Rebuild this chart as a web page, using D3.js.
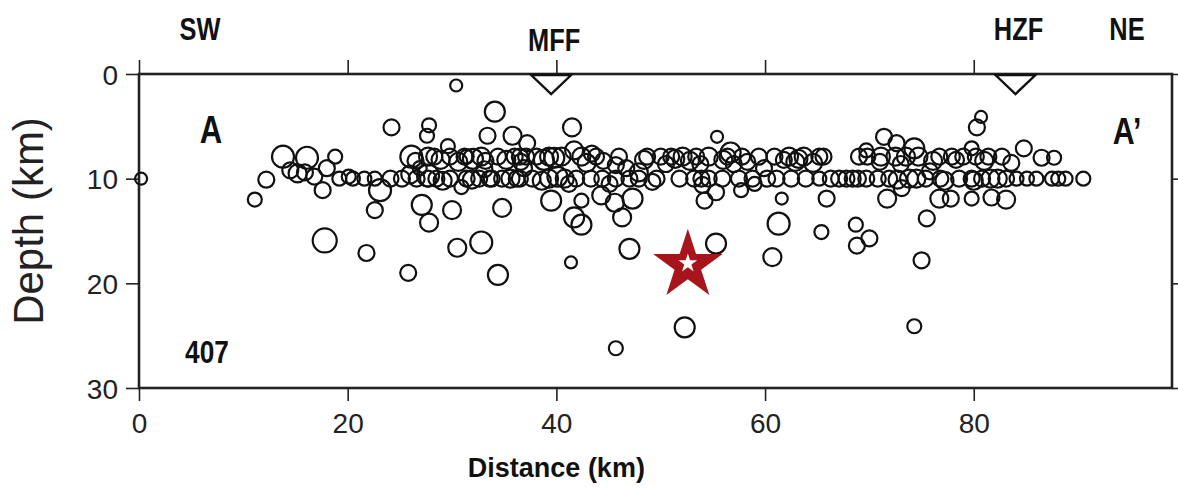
<!DOCTYPE html>
<html>
<head>
<meta charset="utf-8">
<script src="https://cdn.jsdelivr.net/npm/d3@7"></script>
<style>
  body { margin: 0; background: #fff; }
  svg { display: block; }
  .narrow { font-family: "Liberation Sans", Arial, sans-serif; font-weight: bold; }
  .tick text { font-family: "Liberation Sans", Arial, sans-serif; }
</style>
</head>
<body>
<script>
// event distance along profile (km)
var distKm = [
  0.2, 11.1, 12.2, 13.8, 16.1, 18.8, 15.2, 15.9, 18.0, 17.6, 19.2, 17.8, 20.5, 21.6, 22.6, 23.1, 22.6, 21.8, 25.8, 24.2,
  27.8, 27.6, 25.2, 26.1, 26.9, 27.7, 26.6, 28.5, 27.7, 29.8, 29.6, 30.4, 31.4, 29.8, 31.4, 32.6, 30.9, 27.1, 27.8, 30.0,
  30.5, 32.8, 32.8, 33.4, 34.1, 34.4, 33.8, 34.8, 34.8, 34.4, 35.8, 36.0, 36.5, 37.2, 37.1, 37.7, 38.1, 39.3, 39.3, 39.5,
  40.5, 41.5, 41.7, 41.9, 42.4, 42.4, 43.4, 43.3, 43.8, 44.3, 41.7, 42.4, 41.4, 45.7, 45.7, 46.0, 45.6, 46.3, 47.0, 45.7,
  47.3, 47.9, 47.9, 48.7, 49.6, 50.0, 51.0, 51.8, 52.1, 53.4, 53.9, 54.0, 54.2, 54.6, 55.3, 55.4, 55.9, 56.4, 56.7, 57.5,
  57.7, 55.3, 52.3, 57.8, 58.8, 59.4, 60.2, 60.9, 61.1, 61.6, 61.3, 60.7, 62.3, 62.5, 63.7, 63.9, 65.2, 65.6, 65.2, 65.9,
  65.4, 67.1, 67.8, 69.0, 69.7, 69.7, 69.8, 68.7, 70.0, 68.8, 71.1, 71.4, 71.7, 71.9, 72.5, 72.6, 73.1, 73.5, 73.8, 74.3,
  74.7, 74.3, 75.0, 75.5, 75.4, 76.7, 76.7, 76.8, 77.8, 77.9, 78.6, 79.0, 79.8, 79.8, 79.8, 80.2, 80.7, 80.3, 80.8, 81.4,
  81.6, 81.7, 82.7, 83.1, 83.1, 84.1, 84.8, 85.1, 86.5, 87.7, 87.5, 88.1, 88.8, 90.5,
  44.4, 47.0, 53.2, 54.6, 28.3, 31.2, 36.5, 27.7, 33.6, 36.2,
  26.5, 28.9, 30.6, 32.0, 33.2, 35.2, 36.6, 38.8, 39.8, 40.1, 38.6, 35.6, 31.9, 29.1, 24.1, 26.0, 33.1, 36.9, 40.8, 42.9,
  44.5, 46.7, 48.4, 50.5, 51.4, 52.8, 53.8, 56.0, 58.3, 59.9, 62.9, 63.2, 64.6, 66.3, 68.4, 68.9, 70.8, 72.7, 74.5, 76.1,
  78.3, 80.0, 82.3, 81.0, 83.6, 86.0, 20.1, 14.5, 16.8, 59.0, 49.2, 45.1, 41.2, 57.0, 61.8, 75.8, 77.2, 73.0, 71.0
];

// event depth (km)
var depthKm = [
  10.0, 12.0, 10.1, 7.9, 8.0, 7.9, 9.5, 9.4, 9.0, 11.1, 10.0, 15.9, 10.0, 10.0, 10.0, 11.1, 13.0, 17.1, 19.0, 5.1,
  4.9, 5.9, 10.0, 7.9, 9.0, 9.7, 10.0, 10.0, 7.9, 7.9, 6.9, 1.1, 7.9, 10.0, 10.0, 10.0, 10.8, 12.5, 14.2, 13.0,
  16.6, 16.1, 7.9, 5.9, 3.6, 7.9, 10.0, 10.0, 12.8, 19.2, 5.9, 7.9, 10.0, 6.6, 7.9, 10.0, 7.9, 7.9, 10.0, 12.1,
  7.9, 5.1, 7.3, 10.0, 7.9, 12.1, 7.6, 10.0, 7.9, 11.6, 13.7, 14.4, 18.0, 8.7, 10.0, 7.9, 12.3, 13.7, 16.7, 26.2,
  11.9, 9.4, 10.0, 7.9, 10.0, 7.9, 7.9, 10.0, 7.9, 7.9, 10.0, 10.6, 12.1, 7.9, 11.3, 6.0, 10.0, 7.9, 7.5, 10.0,
  11.1, 16.2, 24.2, 7.9, 10.0, 7.9, 10.0, 7.9, 10.0, 11.9, 14.3, 17.5, 7.9, 10.0, 7.9, 10.0, 7.9, 7.9, 10.0, 11.9,
  15.1, 10.0, 10.0, 7.9, 7.3, 10.0, 7.9, 14.4, 15.7, 16.4, 7.9, 6.0, 11.9, 10.0, 7.9, 6.6, 10.9, 7.9, 10.0, 7.1,
  7.9, 24.1, 17.8, 13.8, 10.0, 7.9, 11.9, 10.0, 11.9, 7.9, 10.0, 7.9, 10.0, 11.9, 7.1, 7.9, 4.1, 5.1, 10.0, 7.9,
  10.0, 11.8, 7.9, 10.0, 12.0, 10.0, 7.1, 10.0, 8.0, 8.0, 10.0, 10.0, 10.0, 10.0,
  10.0, 10.0, 10.0, 10.0, 7.9, 7.9, 7.9, 10.0, 10.0, 10.0,
  8.3, 8.2, 8.4, 8.1, 8.3, 8.2, 8.4, 8.2, 8.0, 9.8, 10.2, 10.0, 10.1, 10.2, 10.0, 9.6, 9.1, 9.0, 10.0, 8.5,
  8.3, 9.0, 8.2, 8.6, 8.1, 8.3, 8.6, 8.2, 8.4, 9.0, 8.4, 8.1, 8.5, 10.0, 10.0, 10.0, 10.0, 10.1, 10.0, 8.3,
  8.2, 10.2, 10.0, 8.3, 8.5, 10.0, 9.8, 9.2, 9.8, 10.5, 10.3, 10.5, 10.5, 8.6, 8.2, 9.3, 10.2, 8.6, 8.4
];

// event magnitude
var mag = [
  2.5, 2.8, 3.1, 4.0, 4.0, 2.8, 3.4, 3.1, 3.1, 3.1, 2.8, 4.3, 2.8, 2.8, 2.8, 4.0, 3.1, 3.1, 3.1, 3.1,
  2.8, 2.8, 3.1, 4.0, 2.8, 4.0, 3.1, 3.1, 3.4, 3.1, 2.8, 2.5, 2.8, 3.1, 3.1, 3.1, 2.8, 3.7, 3.4, 3.4,
  3.4, 4.0, 3.4, 3.1, 3.7, 3.1, 3.1, 3.1, 3.4, 3.7, 3.4, 3.1, 3.1, 3.1, 3.1, 3.1, 3.1, 3.4, 3.4, 3.7,
  3.4, 3.4, 3.4, 3.1, 3.4, 2.8, 3.1, 3.1, 3.1, 3.4, 3.7, 3.7, 2.5, 3.1, 3.1, 3.1, 3.4, 3.4, 3.7, 2.8,
  3.7, 3.4, 3.1, 3.1, 3.1, 3.1, 3.1, 3.1, 3.4, 3.1, 3.1, 3.1, 3.1, 3.4, 3.1, 2.5, 3.1, 3.1, 3.7, 3.1,
  2.8, 3.7, 3.7, 3.1, 3.1, 3.1, 3.1, 3.1, 3.1, 2.5, 4.0, 3.4, 3.4, 3.1, 3.4, 3.1, 3.1, 3.1, 2.8, 3.1,
  2.8, 3.1, 3.1, 3.1, 2.8, 3.1, 3.1, 2.8, 3.1, 3.1, 3.4, 3.1, 3.4, 3.1, 3.4, 3.1, 3.1, 3.4, 3.4, 3.7,
  3.4, 2.8, 3.1, 3.1, 3.1, 3.1, 3.4, 3.1, 3.1, 3.1, 3.1, 3.1, 3.1, 2.8, 2.8, 3.1, 2.5, 3.1, 3.1, 3.1,
  3.4, 3.1, 3.1, 3.1, 3.4, 2.8, 3.1, 2.8, 3.1, 2.8, 2.8, 2.8, 2.8, 2.8,
  3.1, 3.1, 3.1, 3.1, 3.1, 3.1, 3.1, 3.1, 3.1, 3.1,
  3.1, 3.4, 3.4, 3.7, 3.1, 3.4, 3.1, 3.7, 3.7, 3.7, 3.4, 3.4, 3.4, 3.4, 3.1, 3.4, 3.1, 3.1, 3.4, 3.4,
  3.1, 3.1, 3.4, 3.1, 3.4, 3.4, 3.1, 3.4, 3.1, 3.1, 3.4, 3.4, 3.4, 3.1, 3.1, 3.1, 3.1, 3.4, 3.4, 3.4,
  3.1, 3.4, 3.4, 3.4, 3.1, 2.8, 2.8, 3.1, 3.1, 2.8, 3.1, 3.1, 3.1, 3.1, 3.1, 3.1, 3.4, 3.1, 3.1
];

// mainshock
var mainDist = 52.6;
var mainDepth = 18.0;

// faults marked on the surface
var faultNames = ["MFF", "HZF"];
var faultDist = [39.5, 84.0];

var xTicks = [0, 20, 40, 60, 80];
var yTicks = [0, 10, 20, 30];

function init() {
    var w = 1178;
    var h = 488;
    var margin = { top: 74, right: 6, bottom: 100, left: 139 };
    var iw = w - margin.left - margin.right;
    var ih = h - margin.top - margin.bottom;

    var svg = d3.select("body")
        .append("svg")
        .attr("width", w)
        .attr("height", h);

    var g = svg.append("g")
        .attr("transform", "translate(" + margin.left + "," + margin.top + ")");

    var x = d3.scaleLinear().domain([0, 99]).range([0, iw]);
    var y = d3.scaleLinear().domain([0, 30]).range([0, ih]);
    var r = d3.scaleLinear().domain([2.5, 4.3]).range([6, 12]);

    // axes
    function styleAxis(sel) {
        sel.select(".domain").remove();
        sel.selectAll(".tick line").attr("stroke", "#222").attr("stroke-width", 1.6);
        sel.selectAll(".tick text").attr("fill", "#222").style("font-size", "28px");
    }

    g.append("g")
        .attr("transform", "translate(0," + ih + ")")
        .call(d3.axisBottom(x).tickValues(xTicks).tickSize(13).tickPadding(12))
        .call(styleAxis);

    g.append("g")
        .call(d3.axisTop(x).tickValues(xTicks).tickSize(14).tickFormat(""))
        .call(styleAxis);

    g.append("g")
        .call(d3.axisLeft(y).tickValues(yTicks).tickSize(13).tickPadding(8))
        .call(styleAxis)
        .selectAll(".tick text").attr("dy", "0.36em");

    g.append("g")
        .attr("transform", "translate(" + iw + ",0)")
        .call(d3.axisRight(y).tickValues(yTicks).tickSize(8).tickFormat(""))
        .call(styleAxis);

    // frame
    g.append("rect")
        .attr("width", iw)
        .attr("height", ih)
        .attr("fill", "none")
        .attr("stroke", "#222")
        .attr("stroke-width", 2.6);

    // events
    var quakes = distKm.map(function(d, i) {
        return { dist: d, depth: depthKm[i], mag: mag[i] };
    });

    g.selectAll("circle.eq")
        .data(quakes)
        .enter()
        .append("circle")
        .attr("class", "eq")
        .attr("cx", function(d) { return x(d.dist); })
        .attr("cy", function(d) { return y(d.depth); })
        .attr("r", function(d) { return r(d.mag); })
        .attr("fill", "none")
        .attr("stroke", "#111")
        .attr("stroke-width", 2.2);

    // fault triangles
    var tri = d3.line();
    faultDist.forEach(function(fd) {
        var cx = x(fd);
        g.append("path")
            .attr("d", tri([[cx - 20, 1], [cx + 20, 1], [cx, 20]]) + "Z")
            .attr("fill", "#fff")
            .attr("stroke", "#111")
            .attr("stroke-width", 2.4);
    });

    // mainshock star
    var star = d3.symbol().type(d3.symbolStar);
    g.append("path")
        .attr("d", star.size(1500)())
        .attr("transform", "translate(" + x(mainDist) + "," + (y(mainDepth) + 3) + ")")
        .attr("fill", "#a8141b");
    g.append("path")
        .attr("d", star.size(110)())
        .attr("transform", "translate(" + x(mainDist) + "," + (y(mainDepth) + 1) + ")")
        .attr("fill", "#fff");

    // labels (condensed bold, like GMT Helvetica-Narrow-Bold)
    function label(txt, px, py, size) {
        svg.append("text")
            .attr("class", "narrow")
            .attr("transform", "translate(" + px + "," + py + ") scale(0.82,1)")
            .attr("text-anchor", "middle")
            .style("font-size", size + "px")
            .attr("fill", "#111")
            .text(txt);
    }

    label("SW", 200, 40, 31);
    label("NE", 1127, 40, 31);
    faultNames.forEach(function(n, i) {
        var dy = i === 0 ? 51 : 40;
        label(n, margin.left + x(faultDist[i]) + 3, dy, 31);
    });
    label("A", 211, 143, 38);
    label("A\u2019", 1127, 144, 37);
    label("407", 207, 363, 32);

    svg.append("text")
        .attr("x", margin.left + x(40))
        .attr("y", 477)
        .attr("text-anchor", "middle")
        .style("font-family", "'Liberation Sans', Arial, sans-serif")
        .style("font-weight", "bold")
        .style("font-size", "27px")
        .attr("fill", "#111")
        .text("Distance (km)");

    svg.append("text")
        .attr("transform", "translate(43," + (margin.top + y(15) - 10) + ") rotate(-90)")
        .attr("text-anchor", "middle")
        .style("font-family", "'Liberation Sans', Arial, sans-serif")
        .style("font-size", "42px")
        .attr("fill", "#222")
        .text("Depth (km)");
}

window.onload = init;
</script>
</body>
</html>
